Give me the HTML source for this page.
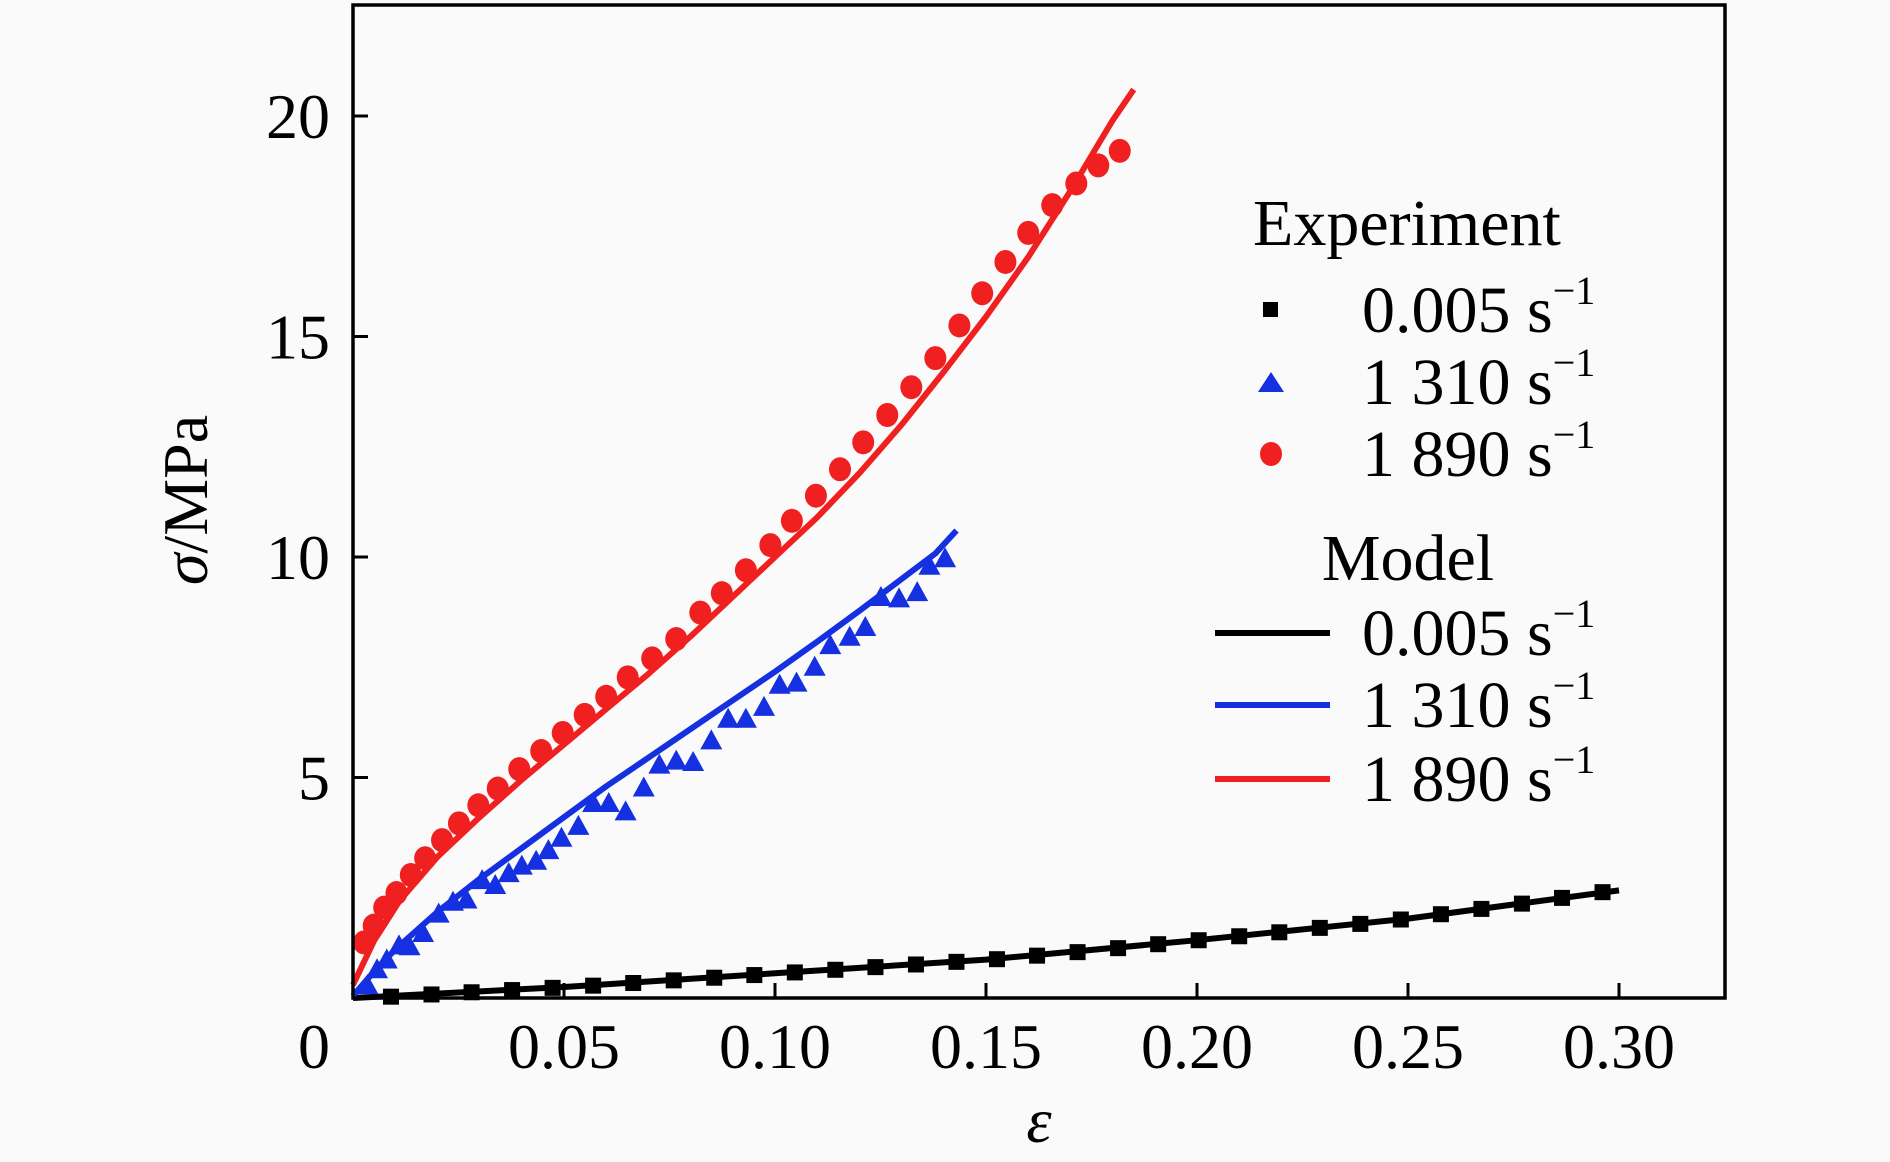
<!DOCTYPE html>
<html><head><meta charset="utf-8"><style>
html,body{margin:0;padding:0;background:#fafafa;}
svg{display:block;font-family:"Liberation Serif",serif;}
</style></head><body>
<svg id="chart" width="1890" height="1162" viewBox="0 0 1890 1162" xmlns="http://www.w3.org/2000/svg">
<rect x="0" y="0" width="1890" height="1162" fill="#fafafa"/>
<g id="plot"></g>
<rect x="353" y="5" width="1372" height="993" fill="none" stroke="#000" stroke-width="3.5"/>
<g id="axes"></g>
<text x="207" y="500" font-size="64" text-anchor="middle" transform="rotate(-90 207 500)"><tspan font-style="italic">σ</tspan>/MPa</text>
<text x="1039" y="1142" font-size="64" font-style="italic" text-anchor="middle">ε</text>
<g>
<text x="1253" y="245" font-size="66">Experiment</text>
<rect x="1263" y="302" width="15" height="15" fill="#000"/>
<text x="1362" y="332" font-size="66">0.005 s<tspan font-size="40" dy="-28">−1</tspan></text>
<polygon points="1271,372 1284,392 1258,392" fill="#1430e0"/>
<text x="1362" y="404" font-size="66">1 310 s<tspan font-size="40" dy="-28">−1</tspan></text>
<ellipse cx="1271" cy="454" rx="11" ry="12" fill="#f02020"/>
<text x="1362" y="476" font-size="66">1 890 s<tspan font-size="40" dy="-28">−1</tspan></text>
<text x="1408" y="580" font-size="66" text-anchor="middle">Model</text>
<line x1="1215" y1="633" x2="1330" y2="633" stroke="#000" stroke-width="6"/>
<text x="1362" y="655" font-size="66">0.005 s<tspan font-size="40" dy="-28">−1</tspan></text>
<line x1="1215" y1="705" x2="1330" y2="705" stroke="#1430e0" stroke-width="6"/>
<text x="1362" y="727" font-size="66">1 310 s<tspan font-size="40" dy="-28">−1</tspan></text>
<line x1="1215" y1="779" x2="1330" y2="779" stroke="#f02020" stroke-width="6"/>
<text x="1362" y="801" font-size="66">1 890 s<tspan font-size="40" dy="-28">−1</tspan></text>
</g>
</svg>
<script>
const xTicks=[0.05,0.10,0.15,0.20,0.25,0.30];
const xTickLabels=["0.05","0.10","0.15","0.20","0.25","0.30"];
const yTicks=[5,10,15,20];
const yTickLabels=["5","10","15","20"];
const blackExpX=[0.009,0.0186,0.0281,0.0377,0.0473,0.0569,0.0664,0.076,0.0856,0.0951,0.1047,0.1143,0.1238,0.1334,0.143,0.1526,0.1621,0.1717,0.1813,0.1908,0.2004,0.21,0.2195,0.2291,0.2387,0.2483,0.2578,0.2674,0.277,0.2865,0.2961];
const blackExpY=[0.03,0.08,0.13,0.18,0.23,0.28,0.34,0.40,0.46,0.52,0.58,0.64,0.70,0.76,0.82,0.88,0.96,1.04,1.13,1.22,1.31,1.40,1.49,1.59,1.68,1.78,1.90,2.02,2.14,2.27,2.40];
const blueExpX=[0.0034,0.0057,0.008,0.0109,0.0134,0.0166,0.0203,0.0237,0.0269,0.0306,0.0337,0.0369,0.04,0.0434,0.0463,0.0494,0.0534,0.0569,0.0606,0.0646,0.0689,0.0726,0.0766,0.0806,0.0849,0.0889,0.0931,0.0974,0.1011,0.1051,0.1094,0.1131,0.1177,0.1214,0.1251,0.1294,0.1337,0.1366,0.1403];
const blueExpY=[0.27,0.63,0.85,1.17,1.15,1.45,1.89,2.16,2.21,2.65,2.54,2.81,2.98,3.09,3.33,3.61,3.88,4.40,4.40,4.21,4.75,5.27,5.36,5.33,5.82,6.31,6.31,6.58,7.08,7.13,7.49,7.98,8.17,8.39,9.07,9.04,9.18,9.78,9.95];
const redExpX=[0.0026,0.0049,0.0074,0.0103,0.0137,0.0171,0.0211,0.0251,0.0297,0.0343,0.0394,0.0446,0.0497,0.0549,0.06,0.0651,0.0709,0.0766,0.0823,0.0874,0.0931,0.0989,0.104,0.1097,0.1154,0.1209,0.1266,0.1323,0.138,0.1437,0.1491,0.1546,0.16,0.1657,0.1714,0.1766,0.1817];
const redExpY=[1.26,1.64,2.05,2.38,2.79,3.17,3.58,3.96,4.37,4.75,5.19,5.60,6.01,6.42,6.83,7.27,7.70,8.14,8.74,9.18,9.70,10.27,10.82,11.39,11.99,12.60,13.22,13.85,14.51,15.25,15.98,16.69,17.35,17.98,18.47,18.88,19.21];
const blackModX=[0,0.05,0.1,0.15,0.2,0.25,0.3];
const blackModY=[0,0.25,0.56,0.87,1.31,1.80,2.44];
const blueModX=[0,0.005,0.01,0.02,0.03,0.04,0.05,0.06,0.07,0.08,0.09,0.1,0.11,0.12,0.13,0.138,0.143];
const blueModY=[0.05,0.6,1.1,1.95,2.7,3.4,4.1,4.8,5.45,6.1,6.75,7.4,8.08,8.78,9.5,10.08,10.6];
const redModX=[0,0.005,0.011,0.02,0.03,0.04,0.05,0.06,0.07,0.08,0.09,0.1,0.11,0.12,0.13,0.14,0.15,0.16,0.17,0.18,0.185];
const redModY=[0.3,1.3,2.2,3.2,4.1,4.95,5.75,6.55,7.35,8.2,9.1,10.0,10.9,11.9,13.0,14.2,15.45,16.8,18.3,19.9,20.6];

const NS="http://www.w3.org/2000/svg";
const X0=353,PXX=4220,Y0=998,PXY=44.1;
function sx(v){return X0+v*PXX;}
function sy(v){return Y0-v*PXY;}
function mk(tag,attrs,parent){const e=document.createElementNS(NS,tag);for(const k in attrs)e.setAttribute(k,attrs[k]);parent.appendChild(e);return e;}
const plot=document.getElementById('plot');
const axes=document.getElementById('axes');

xTicks.forEach((t,i)=>{
  const l=mk('line',{x1:sx(t),x2:sx(t),y1:Y0,y2:Y0-15,stroke:'#000','stroke-width':3},axes);
  
  
  const tx=mk('text',{x:sx(t),y:1068,'font-size':64,'text-anchor':'middle'},axes);
  tx.textContent=xTickLabels[i];
  
  
});
const z=mk('text',{x:314,y:1068,'font-size':64,'text-anchor':'middle'},axes);
z.textContent="0";


yTicks.forEach((t,i)=>{
  const l=mk('line',{x1:X0,x2:X0+15,y1:sy(t),y2:sy(t),stroke:'#000','stroke-width':3},axes);
  
  
  const tx=mk('text',{x:330,y:sy(t)+22,'font-size':64,'text-anchor':'end'},axes);
  tx.textContent=yTickLabels[i];
  
  
});

function line(xs,ys,color,name){
  const d=xs.map((x,i)=>(i?'L':'M')+sx(x).toFixed(1)+' '+sy(ys[i]).toFixed(1)).join(' ');
  const p=mk('path',{d:d,fill:'none',stroke:color,'stroke-width':6,'stroke-linejoin':'round'},plot);
  
  
}
line(blackModX,blackModY,'#000','model-line-0005');
line(blueModX,blueModY,'#1430e0','model-line-1310');
line(redModX,redModY,'#f02020','model-line-1890');

blackExpX.forEach((x,i)=>{
  const r=mk('rect',{x:sx(x)-8,y:sy(blackExpY[i])-8,width:16,height:16,fill:'#000'},plot);
  
  
});
blueExpX.forEach((x,i)=>{
  const cx=sx(x),cy=sy(blueExpY[i]);
  const p=mk('polygon',{points:`${cx},${cy-12} ${cx+11},${cy+8} ${cx-11},${cy+8}`,fill:'#1430e0'},plot);
  
  
});
redExpX.forEach((x,i)=>{
  const c=mk('ellipse',{cx:sx(x),cy:sy(redExpY[i]),rx:11,ry:12,fill:'#f02020'},plot);
  
  
});
</script>
</body></html>
